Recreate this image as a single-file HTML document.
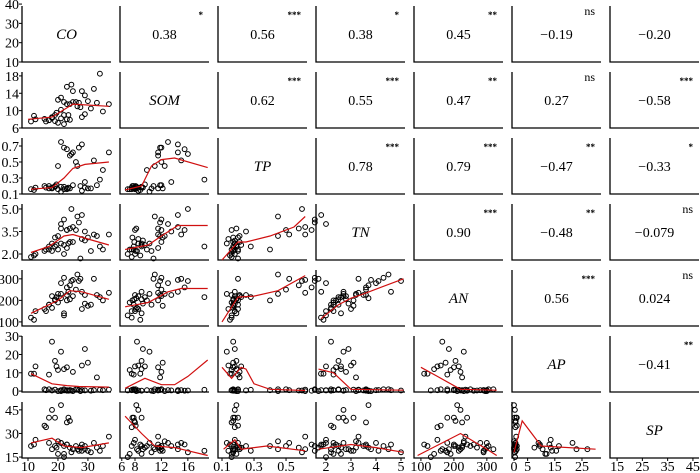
<!DOCTYPE html>
<html><head><meta charset="utf-8">
<style>
html,body{margin:0;padding:0;background:#fff;}
svg{display:block;font-family:"Liberation Serif",serif;}
</style></head>
<body>
<svg id="chart" width="700" height="473" viewBox="0 0 700 473" xmlns="http://www.w3.org/2000/svg"></svg>
<script>
const varNames = ["CO","SOM","TP","TN","AN","AP","SP"];
// sample values per variable
const CO  = [11,12,12.5,17,18,19,19.5,20,21,23,25,28,29,30,33,22, 16,17,18,19,21,23,23.5,24,15.5,22, 20,21,22,23,24,25,26,27,28,29,31,32,34,26.5,24.5,37,27.5,35];
const SOM = [7.5,8.8,8.0,7.8,8.3,9.0,9.5,7.2,10.2,11.5,12.0,8.5,9.2,12.2,11.8,9.0, 7.5,7.8,8.5,7.6,8.2,8.0,9.0,7.9,8.1,6.9, 12.5,13.0,12.0,15.5,11.5,14.5,12.0,11.8,14.5,13.5,10.5,15.0,18.5,11.0,16.0,11.5,10.8,9.8];
const TP  = [0.16,0.15,0.18,0.20,0.17,0.19,0.22,0.16,0.13,0.17,0.21,0.14,0.18,0.17,0.21,0.19, 0.18,0.17,0.18,0.20,0.19,0.16,0.18,0.17,0.20,0.16, 0.45,0.75,0.68,0.66,0.58,0.62,0.50,0.68,0.72,0.25,0.17,0.52,0.28,0.45,0.60,0.62,0.20,0.40];
const TN  = [1.8,1.9,2.0,2.3,2.2,2.5,2.6,2.3,2.7,2.4,2.8,3.0,2.9,3.1,3.2,2.6, 2.3,2.5,2.7,3.1,3.7,3.6,2.7,2.8,2.2,2.0, 3.2,4.0,4.3,3.6,3.7,3.8,3.6,4.1,4.6,3.5,2.2,3.3,2.5,4.5,5.0,3.3,1.7,2.3];
const AN  = [120,110,150,180,165,205,215,190,230,200,220,160,185,175,225,140, 150,180,220,200,210,225,240,205,160,130, 230,280,305,260,270,295,250,290,240,225,180,300,215,320,290,235,300,200];
const AP  = [9.5,9.5,13.5,9,27,16.5,13.5,11.5,21.5,13,10.5,14,23,15.5,7.5,12, 0.5,1,0.3,0.8,0,0.5,0.2,0.6,1,0.4, 0,0.5,1,0.2,0.3,0,1,0.6,0.5,0.4,0.2,0.5,0.7,1,0.3,0.8,0,0.5];
const SP  = [22,23,26,24,20,22,21,17,24,23,20,19,20,19,21,17, 34,40,45,40,48,37,40,38,35,15, 25,24,22,23,21,20,22,19,23,22,18,24,19,20,18,28,21,22];
const dataCols = [CO,SOM,TP,TN,AN,AP,SP];
// axis domains
const xMin = [8,5.73,0.075,1.6,79,-0.75,12.2];
const xMax = [37.7,19.2,0.631,5.16,349,32,47.4];
const yMin = [10,6,0.1,1.6,81,-0.5,14.4];
const yMax = [39,18.9,0.8,5.33,341,30.1,50];
const yTicks = [[10,20,30,40],[6,10,14,18],[0.1,0.3,0.5,0.7],[2.0,3.5,5.0],[100,200,300],[0,10,20,30],[15,30,45]];
const yTickLabels = [["10","20","30","40"],["6","10","14","18"],["0.1","0.3","0.5","0.7"],["2.0","3.5","5.0"],["100","200","300"],["0","10","20","30"],["15","30","45"]];
const xTicks = [[10,20,30],[6,8,12,16],[0.1,0.3,0.5],[2,3,4,5],[100,200,300],[0,5,15,25],[15,25,35,45]];
const xTickLabels = [["10","20","30"],["6","8","12","16"],["0.1","0.3","0.5"],["2","3","4","5"],["100","200","300"],["0","5","15","25"],["15","25","35","45"]];
// correlations (upper panels)
const corrRows = [0,0,0,0,0,0, 1,1,1,1,1, 2,2,2,2, 3,3,3, 4,4, 5];
const corrCols = [1,2,3,4,5,6, 2,3,4,5,6, 3,4,5,6, 4,5,6, 5,6, 6];
const corrVals = ["0.38","0.56","0.38","0.45","\u22120.19","\u22120.20", "0.62","0.55","0.47","0.27","\u22120.58", "0.78","0.79","\u22120.47","\u22120.33", "0.90","\u22120.48","\u22120.079", "0.56","0.024", "\u22120.41"];
const corrStars = ["*","***","*","**","ns","", "***","***","**","ns","***", "***","***","**","*", "***","**","ns", "***","ns", "**"];
// smooth lines per lower panel
const smoothX = {
 "1-0":[10,18,25,37],"2-0":[11,18,22,25,29,37],"2-1":[6.5,9,10.5,12,14,19],
 "3-0":[11,17,22,25,30,37],"3-1":[6.5,10,12,14.5,19],"3-2":[0.1,0.2,0.25,0.4,0.55,0.62],
 "4-0":[11,20,24,28,37],"4-1":[6.5,10,13,15,19],"4-2":[0.1,0.2,0.3,0.45,0.62],"4-3":[1.8,2.5,3,3.5,5.1],
 "5-0":[11,18,23,27,37],"5-1":[6.5,9.5,12,14,16,19],"5-2":[0.1,0.16,0.22,0.25,0.3,0.4,0.62],"5-3":[1.7,2.3,3,5.1],"5-4":[100,150,220,330],
 "6-0":[11,18,22,28,37],"6-1":[6.5,9,11,14,19],"6-2":[0.11,0.18,0.22,0.38,0.62],"6-3":[1.7,3,4,5.1],"6-4":[90,220,300,330],"6-5":[0,3,10,30]
};
const smoothY = {
 "1-0":[8,8.5,11.5,11],"2-0":[0.16,0.18,0.3,0.42,0.47,0.5],"2-1":[0.15,0.2,0.45,0.53,0.55,0.43],
 "3-0":[2.1,2.5,3.2,3.3,3.0,2.6],"3-1":[2.3,2.6,3.2,3.9,3.9],"3-2":[1.6,2.8,2.8,3.2,3.8,4.5],
 "4-0":[140,200,245,240,205],"4-1":[170,190,240,255,255],"4-2":[100,215,220,245,315],"4-3":[115,180,210,230,300],
 "5-0":[9.5,4,3,2.5,2.2],"5-1":[1.5,7,3.5,3.5,8,17],"5-2":[13,7,13,12,4,1,0.3],"5-3":[12,10,1,0.5],"5-4":[13,8,1,0.5],
 "6-0":[24,27,22,21,24],"6-1":[41,30,22,21,16],"6-2":[20,26,20,22,19],"6-3":[20,23,21,18],"6-4":[16,30,20,16],"6-5":[18,38,22,20]
};

const NS = "http://www.w3.org/2000/svg";
const svg = document.getElementById("chart");
const PW = 89, PH = 56;
function panelLeft(c){ return 22 + 98*c; }
function panelTop(r){ return 6 + 66*r; }
function sx(c, v){ return panelLeft(c) + (v - xMin[c]) / (xMax[c] - xMin[c]) * PW; }
function sy(r, v){ return panelTop(r) + PH - (v - yMin[r]) / (yMax[r] - yMin[r]) * PH; }
function mk(tag, attrs, parent){
  const e = document.createElementNS(NS, tag);
  for (const k in attrs) e.setAttribute(k, attrs[k]);
  (parent || svg).appendChild(e);
  return e;
}

for (let r = 0; r < 7; r++) {
  for (let c = 0; c < 7; c++) {
    const g = mk("g", {});
    
    
    const L = panelLeft(c), T = panelTop(r);
    const ax = mk("path", {d:`M${L},${T} V${T+PH} H${L+PW}`, fill:"none", stroke:"#000", "stroke-width":1.3}, g);
    
    
    if (r === c) {
      const t = mk("text", {x:L+PW/2, y:T+PH/2+5, "text-anchor":"middle", "font-size":15, "font-style":"italic"}, g);
      t.textContent = varNames[r];
      
      
    } else if (c > r) {
      let idx = -1;
      for (let i = 0; i < corrRows.length; i++) if (corrRows[i] === r && corrCols[i] === c) idx = i;
      if (idx >= 0) {
        const t = mk("text", {x:L+PW/2, y:T+PH/2+5, "text-anchor":"middle", "font-size":14}, g);
        t.textContent = corrVals[idx];
        
        
        if (corrStars[idx]) {
          const isNs = corrStars[idx] === "ns";
          const s = mk("text", {x:L+PW-6, y:T+(isNs?9:12), "text-anchor":"end", "font-size":isNs?12:9, "font-weight":isNs?"normal":"bold"}, g);
          s.textContent = corrStars[idx];
          
          
        }
      }
    } else {
      const xs = dataCols[c], ys = dataCols[r];
      for (let i = 0; i < xs.length; i++) {
        const p = mk("circle", {cx:sx(c, xs[i]).toFixed(1), cy:sy(r, ys[i]).toFixed(1), r:2.4, fill:"none", stroke:"#000", "stroke-width":1}, g);
        
        
      }
      const key = r + "-" + c;
      const kx = smoothX[key], ky = smoothY[key];
      if (kx) {
        let d = "";
        for (let i = 0; i < kx.length; i++) d += (i ? "L" : "M") + sx(c, kx[i]).toFixed(1) + "," + sy(r, ky[i]).toFixed(1);
        const pl = mk("path", {d:d, fill:"none", stroke:"#d01010", "stroke-width":1.2}, g);
        
        
      }
    }
  }
}
for (let r = 0; r < 7; r++) {
  for (let i = 0; i < yTicks[r].length; i++) {
    const y = sy(r, yTicks[r][i]);
    const tk = mk("line", {x1:panelLeft(0)-3, x2:panelLeft(0), y1:y, y2:y, stroke:"#000", "stroke-width":1});
    
    
    const t = mk("text", {x:panelLeft(0)-3, y:y+5, "text-anchor":"end", "font-size":14});
    t.textContent = yTickLabels[r][i];
    
    
  }
}
for (let c = 0; c < 7; c++) {
  for (let i = 0; i < xTicks[c].length; i++) {
    const x = sx(c, xTicks[c][i]);
    const tk = mk("line", {x1:x, x2:x, y1:panelTop(6)+PH, y2:panelTop(6)+PH+3, stroke:"#000", "stroke-width":1});
    
    
    const t = mk("text", {x:x, y:471, "text-anchor":"middle", "font-size":14});
    t.textContent = xTickLabels[c][i];
    
    
  }
}
</script>
</body></html>
